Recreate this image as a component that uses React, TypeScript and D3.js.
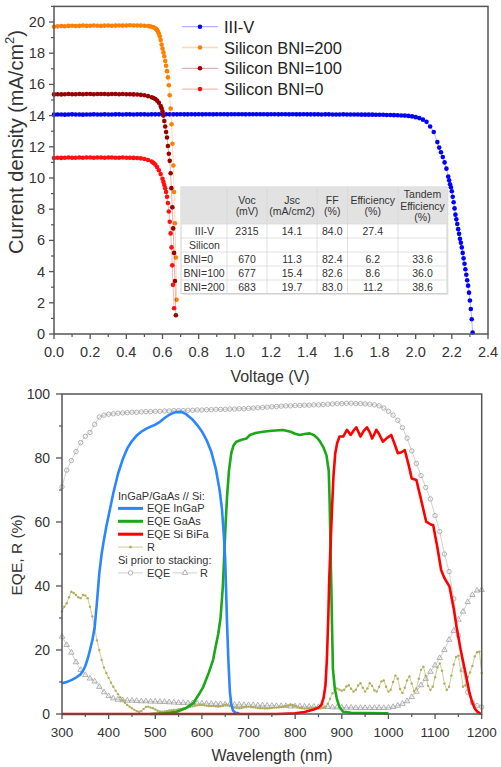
import React from "react";
import * as d3 from "d3";

const FONT = "'Liberation Sans', Arial, Helvetica, sans-serif";
const TEXT = "#333";
const AXIS = "#555";

type Pt = [number, number];

// ---------------- J–V panel ----------------
// Plateau samples are spaced 0.02 V apart starting at 0 V; the knee/drop
// samples are listed explicitly as [voltage, current density].
const JV_PLATEAU_STEP = 0.02;

const iiivPlateau = [
  14.06, 14.07, 14.07, 14.06, 14.07, 14.08, 14.07, 14.07, 14.06, 14.07,
  14.07, 14.08, 14.07, 14.07, 14.08, 14.07, 14.07, 14.08, 14.08, 14.07,
  14.08, 14.08, 14.07, 14.08, 14.08, 14.08, 14.07, 14.08, 14.08, 14.08,
  14.08, 14.09, 14.08, 14.08, 14.08, 14.09, 14.08, 14.08, 14.09, 14.08,
  14.09, 14.08, 14.09, 14.09, 14.08, 14.09, 14.09, 14.09, 14.08, 14.09,
  14.09, 14.09, 14.09, 14.08, 14.09, 14.09, 14.09, 14.09, 14.09, 14.08,
  14.09, 14.09, 14.08, 14.09, 14.09, 14.08, 14.09, 14.08, 14.08, 14.09,
  14.08, 14.08, 14.08, 14.08, 14.07, 14.08, 14.08, 14.07, 14.07, 14.07,
  14.08, 14.07, 14.07, 14.07, 14.07, 14.06, 14.06, 14.06, 14.06, 14.05,
  14.05, 14.05, 14.04, 14.04, 14.03, 14.02, 14.01, 14.0,
];
const iiivKnee: Pt[] = [
  [1.96, 13.98], [1.98, 13.95], [2.0, 13.9], [2.02, 13.84], [2.04, 13.74],
  [2.06, 13.6], [2.08, 13.3], [2.1, 12.95], [2.12, 12.3], [2.13, 11.95],
  [2.14, 11.65], [2.15, 11.35], [2.16, 11.0], [2.17, 10.6], [2.18, 10.1],
  [2.185, 9.85], [2.19, 9.6], [2.195, 9.4], [2.2, 9.15], [2.205, 8.8],
  [2.21, 8.45], [2.215, 8.05], [2.22, 7.65], [2.225, 7.35], [2.23, 7.05],
  [2.235, 6.72], [2.24, 6.42], [2.245, 6.1], [2.25, 5.85], [2.255, 5.55],
  [2.26, 5.2], [2.265, 4.85], [2.27, 4.5], [2.275, 4.15], [2.28, 3.8],
  [2.285, 3.45], [2.29, 3.1], [2.295, 2.65], [2.3, 2.15], [2.305, 1.6],
  [2.31, 0.95], [2.315, 0.1],
];

const bni200Plateau = [
  19.7, 19.72, 19.74, 19.73, 19.75, 19.76, 19.74, 19.75, 19.77, 19.75,
  19.76, 19.78, 19.76, 19.75, 19.77, 19.78, 19.76, 19.77, 19.78, 19.77,
  19.78, 19.79, 19.78,
];
const bni200Knee: Pt[] = [
  [0.46, 19.78], [0.48, 19.77], [0.5, 19.76], [0.52, 19.74], [0.53, 19.72],
  [0.54, 19.7], [0.55, 19.66], [0.56, 19.6], [0.565, 19.55], [0.57, 19.48],
  [0.575, 19.38], [0.58, 19.25], [0.585, 19.08], [0.59, 18.85], [0.595, 18.55],
  [0.6, 18.3], [0.605, 18.05], [0.61, 17.8], [0.615, 17.5], [0.62, 17.2],
  [0.625, 16.85], [0.63, 16.45], [0.635, 15.95], [0.64, 15.3], [0.645, 14.45],
  [0.65, 13.45], [0.655, 12.2], [0.66, 10.8], [0.664, 9.1], [0.669, 7.1],
  [0.674, 4.9], [0.678, 2.2],
];

const bni100Plateau = [
  15.36, 15.37, 15.36, 15.37, 15.38, 15.37, 15.37, 15.38, 15.37, 15.38,
  15.38, 15.37, 15.38, 15.38, 15.38, 15.37, 15.38, 15.38, 15.37, 15.38,
  15.37, 15.37, 15.36,
];
const bni100Knee: Pt[] = [
  [0.46, 15.35], [0.48, 15.33], [0.5, 15.3], [0.52, 15.25], [0.54, 15.18],
  [0.55, 15.13], [0.56, 15.06], [0.57, 14.96], [0.58, 14.82], [0.59, 14.62],
  [0.595, 14.47], [0.6, 14.27], [0.605, 14.0], [0.61, 13.65], [0.615, 13.3],
  [0.62, 12.95], [0.625, 12.6], [0.63, 12.05], [0.635, 11.55], [0.64, 11.1],
  [0.645, 10.3], [0.649, 9.35], [0.654, 8.12], [0.659, 6.77], [0.664, 5.2],
  [0.669, 3.4], [0.674, 1.2],
];

const bni0Plateau = [
  11.28, 11.3, 11.29, 11.3, 11.31, 11.3, 11.3, 11.31, 11.3, 11.31,
  11.31, 11.3, 11.31, 11.31, 11.3, 11.31, 11.31, 11.3, 11.3, 11.31,
  11.3, 11.3, 11.29,
];
const bni0Knee: Pt[] = [
  [0.46, 11.28], [0.48, 11.26], [0.5, 11.22], [0.52, 11.15], [0.54, 11.05],
  [0.55, 10.97], [0.56, 10.86], [0.57, 10.7], [0.58, 10.5], [0.59, 10.25],
  [0.6, 9.95], [0.605, 9.75], [0.61, 9.55], [0.615, 9.35], [0.62, 9.1],
  [0.625, 8.8], [0.63, 8.4], [0.635, 7.85], [0.64, 7.2], [0.645, 6.45],
  [0.65, 5.55], [0.654, 4.4], [0.658, 3.15], [0.664, 1.65],
];

const jvNames = ["III-V", "Silicon BNI=200", "Silicon BNI=100", "Silicon BNI=0"];
const jvColors = ["#0000ff", "#ff8000", "#990000", "#ff1010"];
const jvPlateaus = [iiivPlateau, bni200Plateau, bni100Plateau, bni0Plateau];
const jvKnees = [iiivKnee, bni200Knee, bni100Knee, bni0Knee];

const voltageTicks = [0, 0.2, 0.4, 0.6, 0.8, 1.0, 1.2, 1.4, 1.6, 1.8, 2.0, 2.2, 2.4];
const currentTicks = [0, 2, 4, 6, 8, 10, 12, 14, 16, 18, 20];

// Cell performance table
const tableHeader = [
  ["Voc", "(mV)"],
  ["Jsc", "(mA/cm2)"],
  ["FF", "(%)"],
  ["Efficiency", "(%)"],
  ["Tandem", "Efficiency", "(%)"],
];
const tableRowLabels = ["III-V", "Silicon", "BNI=0", "BNI=100", "BNI=200"];
const tableVoc = ["2315", "", "670", "677", "683"];
const tableJsc = ["14.1", "", "11.3", "15.4", "19.7"];
const tableFF = ["84.0", "", "82.4", "82.6", "83.0"];
const tableEff = ["27.4", "", "6.2", "8.6", "11.2"];
const tableTandem = ["", "", "33.6", "36.0", "38.6"];

// ---------------- EQE / R panel ----------------
const eqeInGaP: Pt[] = [
  [300, 9.6], [310, 10.0], [320, 10.6], [330, 11.4], [340, 12.4], [345, 13.5],
  [350, 15], [355, 17.2], [360, 20], [365, 23], [370, 27], [375, 35], [380, 44],
  [385, 50], [390, 54.5], [395, 58.5], [400, 62], [410, 69], [420, 75],
  [430, 79.5], [440, 83], [450, 85.3], [460, 87], [470, 88.2], [480, 89.1],
  [490, 89.8], [500, 90.4], [510, 91.3], [520, 92.5], [530, 93.5], [540, 94.2],
  [550, 94.4], [558, 94.3], [565, 93.8], [572, 93.0], [580, 92.0], [590, 90.3],
  [600, 88.3], [610, 85.6], [620, 82], [630, 76.5], [638, 70], [643, 64],
  [647, 56], [650, 48], [652, 38], [654, 28], [657, 16], [660, 7], [663, 3],
  [667, 1], [672, 0.4], [680, 0.2],
];
const eqeGaAs: Pt[] = [
  [490, 0], [520, 0.2], [546, 0.7], [565, 1.8], [581, 3.3], [593, 6], [603, 8.5],
  [615, 13], [624, 16.9], [628, 20], [635, 25], [640, 30], [645, 40], [648, 50],
  [651, 60], [654, 68], [658, 76], [663, 81.5], [668, 84], [674, 85.1],
  [685, 85.7], [696, 86.1], [703, 87.2], [715, 87.8], [731, 88.2], [750, 88.5],
  [774, 88.75], [790, 88.2], [800, 87.6], [810, 87.2], [820, 87.5], [831, 87.7],
  [840, 87.2], [848, 86.2], [853, 85.2], [860, 83.5], [867, 80.9], [872, 76],
  [874, 66], [876, 50], [877.5, 40], [879, 28], [881, 14], [885, 8], [890, 4.4],
  [895, 2.2], [903, 0.7], [920, 0.4], [950, 0.3], [1000, 0.2],
];
const eqeSiBiFa: Pt[] = [
  [300, 0], [400, 0], [500, 0], [600, 0], [700, 0], [760, 0], [800, 0.2],
  [820, 0.6], [840, 1.4], [850, 2], [856, 2.8], [861, 5], [865, 9], [868, 17],
  [871, 30], [873, 42], [876, 53], [879, 64], [882, 74], [886, 81.5],
  [890, 84.6], [895, 86.7], [903, 86.7], [911, 88.8], [919, 87.2], [925, 88.5],
  [931, 89.6], [936, 88], [940, 86.7], [947, 88.5], [954, 89.6], [960, 88],
  [965, 86.1], [970, 87.5], [974, 88.8], [980, 87.5], [988, 85.1], [997, 86.3],
  [1006, 87.2], [1013, 84.5], [1020, 81.5], [1028, 81.8], [1035, 82.5],
  [1043, 78], [1050, 73.6], [1060, 73.1], [1070, 67], [1081, 60.1], [1090, 59.3],
  [1096, 59], [1105, 52], [1113, 45], [1120, 42.5], [1131, 39.8], [1140, 33],
  [1146, 27.3], [1155, 20], [1164, 13.7], [1174, 6.5], [1180, 3.5], [1185, 1.8],
  [1190, 0.8], [1196, 0.2], [1200, 0],
];

// Reflectance of the stacked InGaP/GaAs//Si cell, sampled every 5 nm from 300 nm
const stackR = [
  32, 33.5, 34.6, 36.5, 38.2, 37.8, 37.2, 36.5, 36.2, 37.2, 37.0, 36.2, 33.5, 30.5, 26.8, 23, 20, 16.9, 14.5, 12.8,
  11.3, 9.8, 8.5, 7.3, 6.2, 5.2, 4.3, 3.5, 2.8, 2.3, 1.8, 1.3, 0.9, 0.7, 0.9, 1.6, 2.2, 2.3, 2.0, 1.8,
  1.4, 1.0, 0.8, 0.7, 0.8, 0.9, 1.1, 1.2, 1.3, 1.3, 1.5, 1.6, 1.7, 1.8, 2.0, 2.2, 2.4, 2.6, 2.7, 2.8,
  2.8, 2.7, 2.6, 2.5, 2.5, 2.5, 2.4, 2.3, 2.4, 2.6, 2.9, 2.8, 2.5, 2.2, 2.0, 1.9, 1.8, 1.9, 2.1, 2.2,
  2.3, 2.2, 2.1, 2.0, 1.9, 1.8, 1.8, 1.7, 1.7, 1.8, 1.9, 2.0, 2.0, 2.1, 2.2, 2.3, 2.5, 2.7, 2.9, 2.8,
  2.5, 2.2, 1.9, 1.8, 1.7, 1.7, 1.8, 1.8, 1.9, 1.8, 1.7, 1.8, 2.0, 2.3, 3.2, 4.8, 6.5, 7.6, 8.0, 7.6,
  7.3, 7.6, 8.6, 9.0, 7.9, 7.0, 7.6, 8.9, 9.6, 8.2, 7.0, 8.0, 9.6, 8.8, 7.4, 7.0, 8.5, 10.2, 10.5, 8.5,
  7.0, 7.6, 10.0, 12.0, 11.0, 7.8, 6.6, 8.2, 10.5, 11.7, 9.5, 7.2, 8.0, 11.0, 13.8, 14.8, 12.0, 8.8, 7.5, 8.5,
  11.5, 14.5, 15.8, 13.5, 9.5, 7.5, 8.5, 12.0, 15.5, 17.8, 18.2, 13.5, 8.5, 9.0, 11.5, 13.0, 15.0, 18.0, 19.3, 19.5,
  12.8,
];

// Bare Si cell before stacking, sampled every 10 nm from 300 nm
const siEqe = [
  71, 76.2, 79.2, 82, 84.8, 86.8, 88, 90.5, 92.8, 93.4,
  93.7, 93.8, 94.0, 94.1, 94.2, 94.3, 94.3, 94.4, 94.5, 94.5,
  94.6, 94.6, 94.7, 94.7, 94.8, 94.8, 94.8, 94.9, 94.9, 95.0,
  95.0, 95.1, 95.1, 95.2, 95.2, 95.2, 95.3, 95.3, 95.4, 95.4,
  95.5, 95.6, 95.7, 95.8, 95.9, 96.0, 96.1, 96.2, 96.3, 96.3,
  96.4, 96.4, 96.5, 96.5, 96.6, 96.6, 96.7, 96.8, 96.9, 97.0,
  97.0, 97.1, 97.1, 97.0, 97.0, 96.9, 96.8, 96.6, 96.3, 95.6,
  94.6, 93.4, 91.8, 89.5, 86.2, 82.2, 78.3, 74.5, 70.8, 67.2,
  62, 57, 50, 44.5, 36, 24.5, 13.8, 6.8, 3.5, 2.6,
  2.2,
];
const siR = [
  24.2, 21.6, 19.2, 16.2, 13.8, 12.2, 11.1, 10.2, 8.5, 6.8,
  5.6, 4.9, 4.5, 4.3, 4.2, 4.2, 4.1, 4.0, 4.0, 3.9,
  3.9, 3.8, 3.8, 3.7, 3.6, 3.5, 3.5, 3.4, 3.4, 3.3,
  3.3, 3.2, 3.2, 3.1, 3.1, 3.0, 3.0, 2.9, 2.9, 2.8,
  2.8, 2.8, 2.7, 2.7, 2.6, 2.6, 2.5, 2.5, 2.5, 2.4,
  2.4, 2.4, 2.3, 2.3, 2.3, 2.2, 2.2, 2.2, 2.1, 2.1,
  2.0, 2.0, 2.0, 1.9, 1.9, 1.9, 1.9, 1.9, 1.9, 1.9,
  2.0, 2.2, 2.6, 3.2, 4.0, 5.3, 7.0, 9.0, 11.0, 13.2,
  15.2, 17.5, 20.0, 23.2, 26.0, 29.5, 32.0, 35.0, 37.2, 38.6,
  38.8,
];

const wavelengthTicks = [300, 400, 500, 600, 700, 800, 900, 1000, 1100, 1200];
const eqeTicks = [0, 20, 40, 60, 80, 100];

const COLOR_INGAP = "#2a86ff";
const COLOR_GAAS = "#18a818";
const COLOR_SI = "#ff0000";
const COLOR_R = "#aeae5a";
const COLOR_GRAY = "#9e9e9e";

export default function App() {
  // ---- J–V scales
  const xV = d3.scaleLinear().domain([0, 2.4]).range([54, 488]);
  const yJ = d3.scaleLinear().domain([0, 21]).range([334, 6.4]);
  const jvLine = d3.line<Pt>().x((d) => xV(d[0])).y((d) => yJ(d[1]));

  const jvData: Pt[][] = jvPlateaus.map((p, k) => [
    ...p.map((j, i) => [i * JV_PLATEAU_STEP, j] as Pt),
    ...jvKnees[k],
  ]);

  // ---- EQE scales
  const xW = d3.scaleLinear().domain([300, 1200]).range([62, 481.7]);
  const yE = d3.scaleLinear().domain([0, 100]).range([714, 394]);
  const eLine = d3.line<Pt>().x((d) => xW(d[0])).y((d) => yE(d[1]));

  const stackRPts: Pt[] = stackR.map((v, i) => [300 + i * 5, v]);
  const siEqePts: Pt[] = siEqe.map((v, i) => [300 + i * 10, v]);
  const siRPts: Pt[] = siR.map((v, i) => [300 + i * 10, v]);
  const tri = d3.symbol().type(d3.symbolTriangle).size(13)() as string;

  // table geometry
  const tx = [181, 227, 267, 317, 347.5, 398, 447];
  const ty = [187, 224, 238, 252, 266, 280, 293.5];
  const tableCols = [tableVoc, tableJsc, tableFF, tableEff, tableTandem];

  const fmt1 = d3.format(".1f");

  return (
    <svg
      width={501}
      height={767}
      style={{ position: "absolute", left: 0, top: 0, background: "#fff" }}
      fontFamily={FONT}
    >
      {/* ================= J–V panel ================= */}
      <g>
        {jvData.map((pts, k) => (
          <g key={jvNames[k]}>
            <path d={jvLine(pts) ?? ""} fill="none" stroke={jvColors[k]} strokeOpacity={0.3} strokeWidth={1} />
            {pts.map((d, i) => (
              <circle key={i} cx={xV(d[0])} cy={yJ(d[1])} r={2.3} fill={jvColors[k]} />
            ))}
          </g>
        ))}

        {/* frame and axes */}
        <rect x={54} y={6.4} width={434} height={327.6} fill="none" stroke={AXIS} strokeWidth={1.5} />
        {voltageTicks.map((v) => (
          <g key={`vx${v}`}>
            <line x1={xV(v)} x2={xV(v)} y1={334} y2={339} stroke={AXIS} strokeWidth={1.3} />
            <text x={xV(v)} y={352} textAnchor="middle" dominantBaseline="central" fontSize={14.5} fill={TEXT}>
              {fmt1(v)}
            </text>
          </g>
        ))}
        {voltageTicks.slice(0, -1).map((v) => (
          <line key={`vm${v}`} x1={xV(v + 0.1)} x2={xV(v + 0.1)} y1={334} y2={337} stroke={AXIS} strokeWidth={1.2} />
        ))}
        {currentTicks.map((v) => (
          <g key={`jy${v}`}>
            <line x1={49} x2={54} y1={yJ(v)} y2={yJ(v)} stroke={AXIS} strokeWidth={1.3} />
            <text x={45} y={yJ(v)} textAnchor="end" dominantBaseline="central" fontSize={14.5} fill={TEXT}>
              {v}
            </text>
          </g>
        ))}
        {currentTicks.map((v) => (
          <line key={`jm${v}`} x1={51} x2={54} y1={yJ(v + 1)} y2={yJ(v + 1)} stroke={AXIS} strokeWidth={1.2} />
        ))}
        <text x={270} y={376} textAnchor="middle" dominantBaseline="central" fontSize={16} fill={TEXT}>
          Voltage (V)
        </text>
        <text
          transform="translate(16,142) rotate(-90)"
          textAnchor="middle"
          dominantBaseline="central"
          fontSize={20}
          fill={TEXT}
        >
          Current density (mA/cm
          <tspan dy={-7} fontSize={13}>2</tspan>
          <tspan dy={7}>)</tspan>
        </text>

        {/* legend */}
        {jvNames.map((name, k) => {
          const y = 26.7 + k * 20.8;
          return (
            <g key={`lg${name}`}>
              <line x1={182} x2={218} y1={y} y2={y} stroke={jvColors[k]} strokeOpacity={0.3} strokeWidth={1.3} />
              <circle cx={200} cy={y} r={2.3} fill={jvColors[k]} />
              <text x={224} y={y} dominantBaseline="central" fontSize={16.5} fill="#222">
                {name}
              </text>
            </g>
          );
        })}

        {/* performance table */}
        <g fontSize={10.5} fill={TEXT}>
          <rect x={tx[0] + 1.5} y={ty[0] + 1.5} width={tx[6] - tx[0]} height={ty[6] - ty[0]} fill="#e8e8e8" />
          <rect x={tx[0]} y={ty[0]} width={tx[6] - tx[0]} height={ty[6] - ty[0]} fill="#fff" stroke="#cfcfcf" strokeWidth={1} />
          <rect x={tx[0]} y={ty[0]} width={tx[6] - tx[0]} height={ty[1] - ty[0]} fill="#e2e2e2" />
          {ty.slice(1, -1).map((y) => (
            <line key={`th${y}`} x1={tx[0]} x2={tx[6]} y1={y} y2={y} stroke="#d8d8d8" strokeWidth={0.8} />
          ))}
          {tx.slice(1, -1).map((x) => (
            <line key={`tv${x}`} x1={x} x2={x} y1={ty[0]} y2={ty[6]} stroke="#d8d8d8" strokeWidth={0.8} />
          ))}
          {tableHeader.map((lines, c) => {
            const cx = (tx[c + 1] + tx[c + 2]) / 2;
            const lh = 11.3;
            const y0 = 205.5 - ((lines.length - 1) * lh) / 2;
            return lines.map((s, i) => (
              <text key={`hd${c}${i}`} x={cx} y={y0 + i * lh} textAnchor="middle" dominantBaseline="central">
                {s}
              </text>
            ));
          })}
          {tableRowLabels.map((lab, r) => {
            const cy = (ty[r + 1] + ty[r + 2]) / 2;
            const left = lab.startsWith("BNI");
            return (
              <g key={`row${lab}`}>
                <text
                  x={left ? tx[0] + 2.5 : (tx[0] + tx[1]) / 2 + 0.5}
                  y={cy}
                  textAnchor={left ? "start" : "middle"}
                  dominantBaseline="central"
                >
                  {lab}
                </text>
                {tableCols.map((col, c) => (
                  <text
                    key={`cell${r}${c}`}
                    x={(tx[c + 1] + tx[c + 2]) / 2}
                    y={cy}
                    textAnchor="middle"
                    dominantBaseline="central"
                  >
                    {col[r]}
                  </text>
                ))}
              </g>
            );
          })}
        </g>
      </g>

      {/* ================= EQE / R panel ================= */}
      <g>
        {/* bare Si: EQE (circles) and R (triangles) */}
        <path d={eLine(siEqePts) ?? ""} fill="none" stroke="#c4c4c4" strokeWidth={0.8} />
        {siEqePts.map((d, i) => (
          <circle key={`se${i}`} cx={xW(d[0])} cy={yE(d[1])} r={2.2} fill="none" stroke={COLOR_GRAY} strokeWidth={0.8} />
        ))}
        <path d={eLine(siRPts) ?? ""} fill="none" stroke="#c4c4c4" strokeWidth={0.8} />
        {siRPts.map((d, i) => (
          <path
            key={`sr${i}`}
            d={tri}
            transform={`translate(${xW(d[0])},${yE(d[1])})`}
            fill="none"
            stroke={COLOR_GRAY}
            strokeWidth={0.8}
          />
        ))}

        {/* stacked-cell reflectance */}
        <path d={eLine(stackRPts) ?? ""} fill="none" stroke={COLOR_R} strokeOpacity={0.7} strokeWidth={0.9} />
        {stackRPts.map((d, i) => (
          <circle key={`rr${i}`} cx={xW(d[0])} cy={yE(d[1])} r={1.2} fill={COLOR_R} />
        ))}

        {/* sub-cell EQEs */}
        <path d={eLine(eqeGaAs) ?? ""} fill="none" stroke={COLOR_GAAS} strokeWidth={2.6} strokeLinejoin="round" />
        <path d={eLine(eqeInGaP) ?? ""} fill="none" stroke={COLOR_INGAP} strokeWidth={2.6} strokeLinejoin="round" />
        <path d={eLine(eqeSiBiFa) ?? ""} fill="none" stroke={COLOR_SI} strokeWidth={2.6} strokeLinejoin="round" />

        {/* frame and axes */}
        <rect x={62} y={394} width={419.7} height={320} fill="none" stroke={AXIS} strokeWidth={1.5} />
        {wavelengthTicks.map((v) => (
          <g key={`wx${v}`}>
            <line x1={xW(v)} x2={xW(v)} y1={714} y2={719} stroke={AXIS} strokeWidth={1.3} />
            <text x={xW(v)} y={732} textAnchor="middle" dominantBaseline="central" fontSize={13.5} fill={TEXT}>
              {v}
            </text>
          </g>
        ))}
        {wavelengthTicks.slice(0, -1).map((v) => (
          <line key={`wm${v}`} x1={xW(v + 50)} x2={xW(v + 50)} y1={714} y2={717} stroke={AXIS} strokeWidth={1.2} />
        ))}
        {eqeTicks.map((v) => (
          <g key={`ey${v}`}>
            <line x1={56} x2={62} y1={yE(v)} y2={yE(v)} stroke={AXIS} strokeWidth={1.3} />
            <text x={50} y={yE(v)} textAnchor="end" dominantBaseline="central" fontSize={14} fill={TEXT}>
              {v}
            </text>
          </g>
        ))}
        {eqeTicks.slice(0, -1).map((v) => (
          <line key={`em${v}`} x1={59} x2={62} y1={yE(v + 10)} y2={yE(v + 10)} stroke={AXIS} strokeWidth={1.2} />
        ))}
        <text x={272} y={755} textAnchor="middle" dominantBaseline="central" fontSize={16} fill={TEXT}>
          Wavelength (nm)
        </text>
        <text
          transform="translate(16,555) rotate(-90)"
          textAnchor="middle"
          dominantBaseline="central"
          fontSize={15.5}
          fill={TEXT}
        >
          EQE, R (%)
        </text>

        {/* legend */}
        <g fontSize={11} fill={TEXT}>
          <text x={118} y={495.5} dominantBaseline="central">InGaP/GaAs // Si:</text>
          {[
            ["EQE InGaP", COLOR_INGAP],
            ["EQE GaAs", COLOR_GAAS],
            ["EQE Si BiFa", COLOR_SI],
          ].map(([label, color], i) => {
            const y = 508.4 + i * 12.9;
            return (
              <g key={`el${label}`}>
                <line x1={118} x2={143} y1={y} y2={y} stroke={color} strokeWidth={3} />
                <text x={147} y={y} dominantBaseline="central">{label}</text>
              </g>
            );
          })}
          <line x1={118} x2={143} y1={547.1} y2={547.1} stroke={COLOR_R} strokeOpacity={0.7} strokeWidth={0.9} />
          <circle cx={130.5} cy={547.1} r={1.3} fill={COLOR_R} />
          <text x={147} y={547.1} dominantBaseline="central">R</text>
          <text x={118} y={560} dominantBaseline="central">Si prior to stacking:</text>
          <line x1={118} x2={143} y1={572.9} y2={572.9} stroke="#c4c4c4" strokeWidth={0.8} />
          <circle cx={130.5} cy={572.9} r={2.2} fill="#fff" stroke={COLOR_GRAY} strokeWidth={0.8} />
          <text x={147} y={572.9} dominantBaseline="central">EQE</text>
          <line x1={173} x2={197} y1={572.9} y2={572.9} stroke="#c4c4c4" strokeWidth={0.8} />
          <path d={tri} transform="translate(185,572.9)" fill="#fff" stroke={COLOR_GRAY} strokeWidth={0.8} />
          <text x={200} y={572.9} dominantBaseline="central">R</text>
        </g>
      </g>
    </svg>
  );
}
